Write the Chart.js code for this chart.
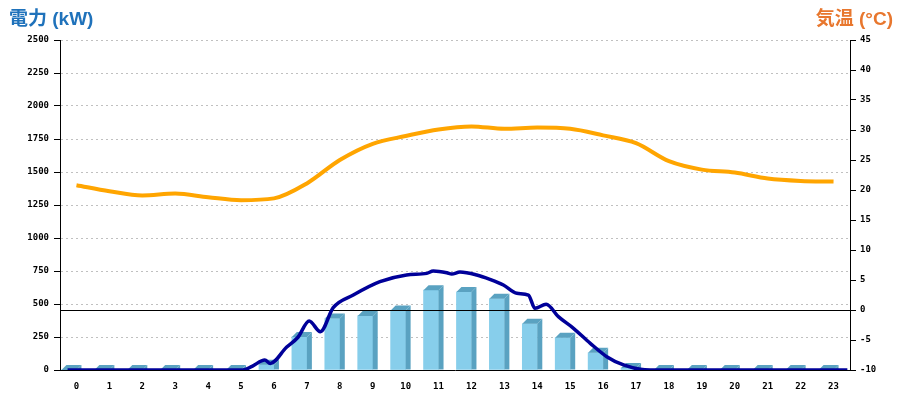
<!DOCTYPE html>
<html>
<head>
<meta charset="utf-8">
<script src="https://cdn.jsdelivr.net/npm/chart.js@4.4.1/dist/chart.umd.min.js"></script>
<style>
  html, body { margin: 0; padding: 0; background: #fff; }
  #wrap { position: relative; width: 900px; height: 400px; }
  .ttl { position: absolute; top: 3px; font: bold 19px "Liberation Sans", "Noto Sans CJK JP", sans-serif; }
  #tl { left: 9px; color: #1f72bb; }
  #tr { right: 7px; color: #e8772e; }
</style>
</head>
<body>
<div id="wrap">
  <canvas id="c" width="900" height="400"></canvas>
  <div class="ttl" id="tl">電力 (kW)</div>
  <div class="ttl" id="tr">気温 (°C)</div>
</div>
<script>
// hours on the x axis
const hours = ['0','1','2','3','4','5','6','7','8','9','10','11','12','13','14','15','16','17','18','19','20','21','22','23'];

// hourly power bars (kW)
const powerBars = [0, 0, 0, 0, 0, 0, 40, 250, 390, 410, 450, 605, 590, 540, 350, 245, 130, 15, 0, 0, 0, 0, 0, 0];

// finer power curve (kW), x in hour positions
const curveX = [-0.27, 5.05, 5.35, 5.72, 5.89, 6.38, 6.73, 7.07, 7.41, 7.80, 8.41, 9.22, 10.03, 10.64, 10.84, 11.25, 11.40, 11.65, 12.16, 12.56, 12.97, 13.38, 13.73, 13.93, 14.27, 14.64, 15.10, 15.61, 16.11, 16.62, 17.13, 17.43, 23.42];
const curveY = [0, 0, 30, 76, 50, 172, 248, 371, 290, 472, 568, 669, 720, 732, 750, 737, 727, 742, 720, 687, 644, 581, 568, 467, 498, 404, 316, 202, 101, 38, 5, 0, 0];

// temperature (°C)
const temps = [20.8, 19.8, 19.1, 19.4, 18.8, 18.3, 18.6, 21.1, 25.0, 27.7, 29.0, 30.1, 30.6, 30.2, 30.4, 30.2, 29.1, 27.8, 24.8, 23.4, 22.9, 21.9, 21.5, 21.4];

const tickFont = { family: 'DejaVu Sans Mono', size: 9, weight: 'bold' };
const plain = v => String(v);

// side and top faces for the bars, plus the 0 °C line
const bar3d = {
  id: 'bar3d',
  afterDatasetDraw(chart, args) {
    if (args.meta.type !== 'bar') return;
    const ctx = chart.ctx;
    const d = 5;
    ctx.save();
    ctx.fillStyle = '#5aa2c1';
    args.meta.data.forEach(el => {
      const { x, y, base, width } = el.getProps(['x', 'y', 'base', 'width'], true);
      const l = x - width / 2, r = x + width / 2;
      ctx.beginPath();
      ctx.moveTo(r, y);
      ctx.lineTo(r + d, y - d);
      ctx.lineTo(r + d, base);
      ctx.lineTo(r, base);
      ctx.closePath();
      ctx.fill();
      ctx.beginPath();
      ctx.moveTo(l, y);
      ctx.lineTo(l + d, y - d);
      ctx.lineTo(r + d, y - d);
      ctx.lineTo(r, y);
      ctx.closePath();
      ctx.fill();
    });
    const a = chart.chartArea;
    const y0 = Math.floor(chart.scales.y1.getPixelForValue(0)) + 0.5;
    ctx.strokeStyle = '#000';
    ctx.lineWidth = 1;
    ctx.beginPath();
    ctx.moveTo(a.left, y0);
    ctx.lineTo(a.right, y0);
    ctx.stroke();
    ctx.restore();
  }
};

new Chart(document.getElementById('c'), {
  data: {
    labels: hours,
    datasets: [
      {
        type: 'line',
        data: temps,
        xAxisID: 'x',
        yAxisID: 'y1',
        borderColor: '#ffa500',
        borderWidth: 4,
        pointRadius: 0,
        cubicInterpolationMode: 'monotone',
        order: 1
      },
      {
        type: 'line',
        data: curveX.map((x, i) => ({ x: x, y: curveY[i] })),
        xAxisID: 'xl',
        yAxisID: 'y',
        borderColor: '#000099',
        borderWidth: 3.5,
        pointRadius: 0,
        cubicInterpolationMode: 'monotone',
        order: 2
      },
      {
        type: 'bar',
        data: powerBars,
        xAxisID: 'x',
        yAxisID: 'y',
        backgroundColor: '#87ceeb',
        borderWidth: 0,
        barThickness: 15,
        order: 3
      }
    ]
  },
  options: {
    responsive: false,
    animation: false,
    devicePixelRatio: 1,
    layout: { padding: { top: 40, left: 0, right: 0, bottom: 0 } },
    plugins: { legend: { display: false }, tooltip: { enabled: false } },
    scales: {
      x: {
        type: 'category',
        offset: true,
        grid: { display: false },
        border: { display: true, color: '#000', width: 1 },
        ticks: { font: tickFont, color: '#000', padding: 3, maxRotation: 0, autoSkip: false },
        afterFit: s => { s.height = 30; }
      },
      xl: {
        type: 'linear',
        display: false,
        min: -0.5,
        max: 23.5
      },
      y: {
        position: 'left',
        min: 0,
        max: 2500,
        ticks: { stepSize: 250, font: tickFont, color: '#000', padding: 5, callback: plain },
        grid: {
          color: c => (c.tick && c.tick.value === 0) ? 'rgba(0,0,0,0)' : '#c0c0c0',
          tickColor: '#000',
          tickLength: 6
        },
        border: { color: '#000', width: 1, dash: [2, 3] },
        afterFit: s => { s.width = 60; }
      },
      y1: {
        position: 'right',
        min: -10,
        max: 45,
        ticks: { stepSize: 5, font: tickFont, color: '#000', padding: 4, callback: plain },
        grid: { drawOnChartArea: false, tickColor: '#000', tickLength: 6 },
        border: { color: '#000', width: 1 },
        afterFit: s => { s.width = 50; }
      }
    }
  },
  plugins: [bar3d]
});
</script>
</body>
</html>
